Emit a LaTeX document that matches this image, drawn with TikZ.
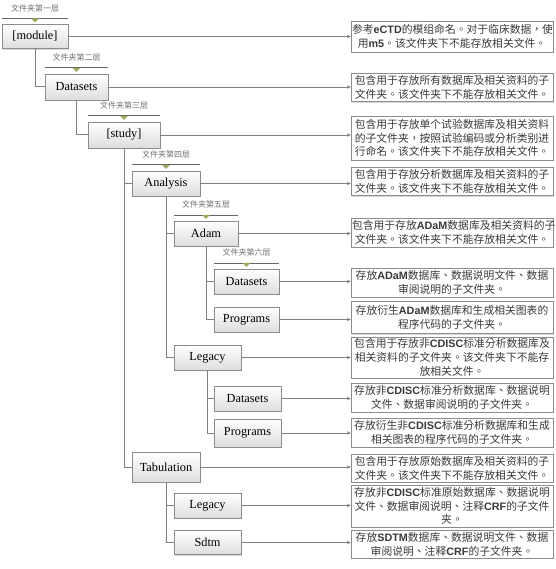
\documentclass[tikz,border=0pt]{standalone}
\usepackage{fontspec}
\setmainfont{Liberation Serif}
\newfontfamily\cjk{Noto Sans CJK TC}
\newfontfamily\latn{Liberation Sans}
\usetikzlibrary{shadows,arrows.meta}
\newcommand{\en}[1]{{\latn\bfseries #1}}

\begin{document}
\begin{tikzpicture}[x=1pt,y=-1pt,
	folder/.style={draw=boxgray, top color=white, bottom color=black!13, drop shadow={shadow xshift=1.2pt,shadow yshift=-1.2pt,opacity=0.3}, inner sep=1pt, minimum height=26, font=\fontsize{12.3}{14}\selectfont},
	desc/.style={draw=boxgray, fill=white, drop shadow={shadow xshift=1.2pt,shadow yshift=-1.2pt,opacity=0.3}, text width=200pt, align=center, inner xsep=1pt, inner ysep=1pt, text=txtgray, font=\cjk\fontsize{10.8}{13.8}\selectfont},
	tree/.style={draw=linegray, line width=1pt},
	link/.style={draw=linegray, line width=0.8pt, -{Stealth[length=4pt,width=3.5pt]}},
	level/.style={font=\cjk\fontsize{8}{9}\selectfont, text=lblgray, inner sep=0pt},
	lvlline/.style={draw=black!60, line width=0.6pt}]
					\definecolor{boxgray}{HTML}{8C8C8C}
					\definecolor{linegray}{HTML}{7F7F7F}
					\definecolor{txtgray}{HTML}{3A3A3A}
					\definecolor{lblgray}{HTML}{6E6E6E}
					\definecolor{trigreen}{HTML}{9BAA5C}
					\useasboundingbox (0,0) rectangle (555,569);

					\node[folder,minimum width=66,minimum height=24] (module) at (35,36.5) {[module]};
					\node[folder,minimum width=63] (ds) at (76.5,87) {Datasets};
					\node[folder,minimum width=72] (study) at (124,135) {[study]};
					\node[folder,minimum width=68,minimum height=25] (ana) at (166,183.5) {Analysis};
					\node[folder,minimum width=64,minimum height=25] (adam) at (206,233.5) {Adam};
					\node[folder,minimum width=65,minimum height=25] (adamds) at (246.5,281.5) {Datasets};
					\node[folder,minimum width=65,minimum height=25] (adampg) at (246.5,319.5) {Programs};
					\node[folder,minimum width=67,minimum height=25] (legacy) at (207.5,357.5) {Legacy};
					\node[folder,minimum width=67,minimum height=25] (legds) at (247.5,398.5) {Datasets};
					\node[folder,minimum width=67,minimum height=28] (legpg) at (247.5,433) {Programs};
					\node[folder,minimum width=68,minimum height=30] (tab) at (166,467) {Tabulation};
					\node[folder,minimum width=67,minimum height=25] (tablegacy) at (207.5,505.5) {Legacy};
					\node[folder,minimum width=67,minimum height=24] (sdtm) at (207.5,542.5) {Sdtm};

					\foreach \f/\lv in {module/一,ds/二,study/三,ana/四,adam/五,adamds/六}{
						\draw[lvlline] ([yshift=6pt]\f.north west) -- ([yshift=6pt]\f.north east);
						\fill[trigreen] ([yshift=6pt]\f.north) ++(-4,0) -- ++(8,0) -- ++(-4,4) -- cycle;
						\node[level] (lab\f) at ([yshift=16pt]\f.north) {文件夹第\lv 层};
					}

					\draw[tree] (module.south) |- (ds.west);
					\draw[tree] (ds.south) |- (study.west);
					\draw[tree] (study.south) |- (ana.west);
					\draw[tree] (study.south) |- (tab.west);
					\draw[tree] (ana.south) |- (adam.west);
					\draw[tree] (ana.south) |- (legacy.west);
					\draw[tree] (adam.south) |- (adamds.west);
					\draw[tree] (adam.south) |- (adampg.west);
					\draw[tree] (legacy.south) |- (legds.west);
					\draw[tree] (legacy.south) |- (legpg.west);
					\draw[tree] (tab.south) |- (tablegacy.west);
					\draw[tree] (tab.south) |- (sdtm.west);

					\node[desc,minimum height=31] (dmodule) at (452,36.5) {参考\en{eCTD}的模组命名。对于临床数据，使\\用\en{m5}。该文件夹下不能存放相关文件。};
					\node[desc,minimum height=28] (dds) at (452,87.5) {包含用于存放所有数据库及相关资料的子\\文件夹。该文件夹下不能存放相关文件。};
					\node[desc,minimum height=44] (dstudy) at (452,138) {包含用于存放单个试验数据库及相关资料\\的子文件夹，按照试验编码或分析类别进\\行命名。该文件夹下不能存放相关文件。};
					\node[desc,minimum height=28] (dana) at (452,181.5) {包含用于存放分析数据库及相关资料的子\\文件夹。该文件夹下不能存放相关文件。};
					\node[desc,minimum height=29] (dadam) at (452,232.5) {包含用于存放\en{ADaM}数据库及相关资料的子\\文件夹。该文件夹下不能存放相关文件。};
					\node[desc,minimum height=29] (dadamds) at (452,282.5) {存放\en{ADaM}数据库、数据说明文件、数据\\审阅说明的子文件夹。};
					\node[desc,minimum height=32] (dadampg) at (452,317.5) {存放衍生\en{ADaM}数据库和生成相关图表的\\程序代码的子文件夹。};
					\node[desc,minimum height=41] (dlegacy) at (452,357.5) {包含用于存放非\en{CDISC}标准分析数据库及\\相关资料的子文件夹。该文件夹下不能存\\放相关文件。};
					\node[desc,minimum height=29] (dlegds) at (452,397.5) {存放非\en{CDISC}标准分析数据库、数据说明\\文件、数据审阅说明的子文件夹。};
					\node[desc,minimum height=29] (dlegpg) at (452,432.5) {存放衍生非\en{CDISC}标准分析数据库和生成\\相关图表的程序代码的子文件夹。};
					\node[desc,minimum height=28] (dtab) at (452,468) {包含用于存放原始数据库及相关资料的子\\文件夹。该文件夹下不能存放相关文件。};
					\node[desc,minimum height=42] (dtablegacy) at (452,506) {存放非\en{CDISC}标准原始数据库、数据说明\\文件、数据审阅说明、注释\en{CRF}的子文件\\夹。};
					\node[desc,minimum height=28] (dsdtm) at (452,544) {存放\en{SDTM}数据库、数据说明文件、数据\\审阅说明、注释\en{CRF}的子文件夹。};

					\foreach \f in {module,ds,study,ana,adam,adamds,adampg,legacy,legds,legpg,tab,tablegacy,sdtm}
						\draw[link] (\f.east) -- (\f.east -| d\f.west);
				\end{tikzpicture}
\end{document}
